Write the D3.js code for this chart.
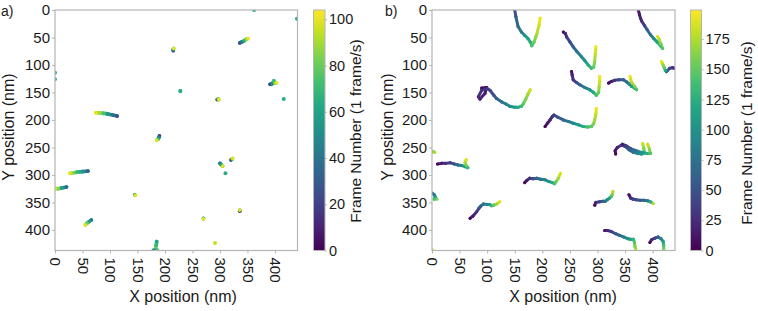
<!DOCTYPE html>
<html>
<head>
<meta charset="utf-8">
<script src="https://cdn.jsdelivr.net/npm/d3@7"></script>
<style>
  body { margin: 0; background: #fff; }
  text { font-family: "Liberation Sans", Arial, Helvetica, sans-serif; fill: #1a1a1a; }
</style>
</head>
<body>
<div id="chart"></div>
<script>
// Particle trajectories, each point = [x nm, y nm, frame]
const tracksA = [
    [[336, 60, 25], [340, 58, 45], [344, 56, 65], [348, 53, 85], [351, 52, 100]],
    [[215, 74, 20], [215, 72, 60], [216, 70, 100]],
    [[228, 147, 60], [228, 148, 65]],
    [[295, 163, 30], [297, 162, 80], [298, 163, 100]],
    [[391, 135, 25], [395, 134, 50], [398, 129, 70], [400, 133, 85], [403, 133, 100]],
    [[416, 162, 65]],
    [[362, 0, 65]],
    [[440, 16, 65]],
    [[0, 114, 65]],
    [[0, 126, 70]],
    [[113, 193, 25], [105, 191, 40], [96, 189, 55], [88, 188, 75], [80, 187, 90], [74, 187, 100]],
    [[190, 229, 25], [189, 232, 45], [187, 235, 70], [185, 237, 100]],
    [[60, 293, 30], [50, 294, 55], [40, 295, 70], [30, 297, 90], [27, 297, 100]],
    [[21, 322, 35], [12, 324, 60], [5, 325, 85], [0, 325, 100]],
    [[145, 336, 60], [146, 337, 100]],
    [[66, 382, 40], [62, 385, 60], [58, 388, 80], [55, 391, 100]],
    [[300, 279, 40], [302, 281, 60], [305, 284, 100]],
    [[320, 273, 25], [322, 271, 70], [323, 270, 100]],
    [[310, 297, 65]],
    [[270, 379, 60], [270, 380, 100]],
    [[336, 366, 25], [336, 364, 100]],
    [[291, 424, 95]],
    [[185, 421, 60], [184, 428, 70], [183, 434, 80], [181, 437, 90]],
    [[179, 437, 45], [186, 437, 75]]
];

const tracksB = [
    [[150, 0, 45], [152, 12, 55], [156, 30, 70], [162, 40, 85], [168, 46, 100], [174, 52, 115], [178, 58, 125], [181, 65, 140], [185, 58, 155], [188, 50, 165], [191, 40, 175], [194, 28, 185], [196, 15, 195]],
    [[238, 40, 10], [242, 43, 20], [244, 49, 30], [250, 58, 45], [256, 67, 60], [263, 76, 75], [271, 85, 90], [277, 92, 105], [283, 100, 120], [289, 106, 135], [293, 104, 150], [295, 94, 165], [296, 80, 180], [297, 67, 195]],
    [[253, 112, 10], [254, 118, 20], [256, 127, 30], [262, 132, 45], [268, 136, 60], [277, 141, 80], [286, 145, 100], [293, 150, 120], [298, 155, 140], [302, 150, 155], [303, 140, 170], [304, 130, 185], [304, 121, 195]],
    [[90, 142, 5], [99, 141, 10], [96, 152, 15], [87, 162, 20], [84, 158, 25], [90, 146, 30], [100, 143, 35], [105, 146, 40], [112, 155, 50], [117, 161, 60], [126, 167, 75], [134, 171, 85], [141, 175, 95], [150, 177, 110], [156, 177, 120], [162, 175, 135], [166, 170, 150], [170, 162, 160], [174, 153, 170], [178, 145, 185]],
    [[205, 212, 5], [210, 205, 15], [214, 200, 20], [218, 194, 30], [221, 191, 35], [228, 195, 50], [238, 200, 65], [248, 203, 80], [256, 206, 95], [266, 209, 110], [274, 212, 125], [282, 213, 140], [289, 212, 150], [293, 207, 160], [295, 200, 170], [297, 190, 180], [298, 179, 195]],
    [[374, 0, 10], [376, 8, 15], [378, 15, 20], [380, 20, 25], [385, 28, 40], [390, 36, 55], [396, 45, 75], [402, 52, 95], [408, 58, 115], [414, 65, 135], [418, 70, 145], [415, 62, 160], [412, 54, 175], [409, 48, 190]],
    [[440, 106, 10], [436, 105, 25], [431, 106, 40], [427, 110, 60], [425, 112, 80], [423, 110, 120], [421, 105, 150], [419, 100, 165], [417, 96, 180], [416, 94, 190]],
    [[320, 133, 5], [325, 130, 15], [331, 128, 30], [339, 127, 45], [347, 127, 60], [353, 131, 75], [358, 135, 90], [362, 139, 110], [367, 142, 125], [371, 145, 145], [368, 140, 160], [362, 132, 175], [360, 126, 185], [359, 121, 195]],
    [[333, 262, 5], [332, 256, 10], [336, 250, 20], [343, 246, 30], [350, 248, 45], [357, 254, 60], [365, 259, 80], [373, 261, 95], [380, 262, 110], [385, 260, 130], [384, 252, 160], [382, 243, 185]],
    [[345, 244, 15], [352, 247, 35], [360, 252, 55], [370, 256, 75], [380, 259, 100], [390, 261, 125], [396, 261, 145], [394, 253, 165], [391, 244, 185]],
    [[0, 258, 150], [3, 258, 165], [5, 259, 175]],
    [[10, 280, 5], [17, 279, 15], [25, 279, 25], [33, 278, 35], [40, 280, 50], [47, 282, 70], [54, 283, 90], [60, 285, 110], [65, 287, 135], [62, 283, 155], [60, 278, 170], [62, 272, 190]],
    [[0, 333, 45], [4, 336, 80], [6, 340, 110], [4, 344, 140], [9, 344, 160]],
    [[69, 379, 5], [74, 375, 15], [81, 367, 30], [85, 361, 45], [88, 357, 60], [93, 353, 75], [100, 354, 90], [105, 354, 110], [108, 356, 130], [112, 355, 150], [117, 353, 170], [123, 349, 190]],
    [[168, 314, 5], [172, 310, 15], [177, 306, 30], [183, 307, 45], [190, 306, 60], [197, 308, 75], [205, 309, 90], [212, 312, 105], [218, 314, 120], [222, 316, 140], [225, 312, 155], [229, 306, 170], [233, 297, 190]],
    [[295, 355, 5], [297, 350, 20], [304, 349, 40], [310, 348, 60], [314, 348, 75], [318, 345, 95], [322, 342, 115], [325, 339, 140], [327, 335, 160], [328, 330, 180]],
    [[357, 336, 10], [360, 342, 25], [364, 344, 35], [370, 345, 45], [377, 346, 55], [384, 346, 65], [391, 347, 80], [396, 349, 120], [401, 352, 175]],
    [[313, 401, 10], [318, 401, 20], [325, 403, 35], [333, 407, 50], [340, 410, 65], [348, 413, 85], [355, 416, 100], [360, 417, 115], [365, 417, 130], [367, 423, 145], [368, 430, 160], [370, 437, 175]],
    [[395, 423, 5], [398, 418, 20], [404, 415, 40], [410, 413, 60], [415, 416, 85], [419, 421, 110], [420, 428, 140], [420, 436, 160]],
    [[0, 437, 180]]
];

const xTicks = [0, 50, 100, 150, 200, 250, 300, 350, 400];
const yTicks = [0, 50, 100, 150, 200, 250, 300, 350, 400];
const cbTicksA = [0, 20, 40, 60, 80, 100];
const cbTicksB = [0, 25, 50, 75, 100, 125, 150, 175];

const width = 758;
const height = 311;
const gray = "#b4b4b4";

const svg = d3.select("#chart").append("svg")
    .attr("width", width)
    .attr("height", height);

const defs = svg.append("defs");

function drawPanel(p) {
    const x = d3.scaleLinear().domain([0, p.xMax]).range([p.left, p.right]);
    const y = d3.scaleLinear().domain([0, p.yMax]).range([p.top, p.bottom]);
    const color = d3.scaleSequential(d3.interpolateViridis).domain([0, p.cbMax]);

    // clip region for the trajectories
    defs.append("clipPath").attr("id", "clip-" + p.id)
        .append("rect")
        .attr("x", p.left).attr("y", p.top)
        .attr("width", p.right - p.left).attr("height", p.bottom - p.top);

    const marks = svg.append("g").attr("clip-path", `url(#clip-${p.id})`);

    p.tracks.forEach(track => {
        const segs = d3.pairs(track);
        marks.append("g")
            .selectAll("line")
            .data(segs)
            .enter()
            .append("line")
            .attr("x1", d => x(d[0][0]))
            .attr("y1", d => y(d[0][1]))
            .attr("x2", d => x(d[1][0]))
            .attr("y2", d => y(d[1][1]))
            .attr("stroke", d => color((d[0][2] + d[1][2]) / 2))
            .attr("stroke-width", p.lineW)
            .attr("stroke-linecap", "round");
        marks.append("g")
            .selectAll("circle")
            .data(track)
            .enter()
            .append("circle")
            .attr("cx", d => x(d[0]))
            .attr("cy", d => y(d[1]))
            .attr("r", track.length === 1 ? p.dotR : p.lineW / 2)
            .attr("fill", d => color(d[2]));
    });

    // frame
    svg.append("rect")
        .attr("x", p.left).attr("y", p.top)
        .attr("width", p.right - p.left).attr("height", p.bottom - p.top)
        .attr("fill", "none").attr("stroke", gray).attr("stroke-width", 1.2);

    const xAxis = svg.append("g")
        .attr("transform", `translate(0,${p.bottom})`)
        .call(d3.axisBottom(x).tickValues(xTicks).tickSize(3).tickSizeOuter(0));
    xAxis.select(".domain").remove();
    xAxis.selectAll(".tick line").attr("stroke", gray);
    xAxis.selectAll(".tick text")
        .attr("y", 0).attr("x", 7).attr("dy", "0.36em")
        .attr("transform", "rotate(90)")
        .style("text-anchor", "start")
        .style("font-size", "15px")
        .attr("fill", "#1a1a1a");

    const yAxis = svg.append("g")
        .attr("transform", `translate(${p.left},0)`)
        .call(d3.axisLeft(y).tickValues(yTicks).tickSize(3).tickPadding(2).tickSizeOuter(0));
    yAxis.select(".domain").remove();
    yAxis.selectAll(".tick line").attr("stroke", gray);
    yAxis.selectAll(".tick text").style("font-size", "15px").attr("fill", "#1a1a1a");

    // colorbar
    const gradId = "grad-" + p.id;
    const grad = defs.append("linearGradient").attr("id", gradId)
        .attr("x1", "0").attr("y1", "1").attr("x2", "0").attr("y2", "0");
    d3.range(0, 1.0001, 0.1).forEach(t => {
        grad.append("stop").attr("offset", t).attr("stop-color", d3.interpolateViridis(t));
    });
    svg.append("rect")
        .attr("x", p.cbLeft).attr("y", p.top)
        .attr("width", p.cbW).attr("height", p.bottom - p.top)
        .attr("fill", `url(#${gradId})`)
        .attr("stroke", gray).attr("stroke-width", 1);

    const cbScale = d3.scaleLinear().domain([0, p.cbMax]).range([p.bottom, p.top]);
    const cbAxis = svg.append("g")
        .attr("transform", `translate(${p.cbLeft + p.cbW},0)`)
        .call(d3.axisRight(cbScale).tickValues(p.cbTicks).tickSize(2).tickPadding(2).tickSizeOuter(0));
    cbAxis.select(".domain").remove();
    cbAxis.selectAll(".tick line").attr("stroke", gray);
    cbAxis.selectAll(".tick text").style("font-size", "14.5px").attr("fill", "#1a1a1a");

    svg.append("text")
        .attr("transform", `translate(${p.cbLabelX},${p.cbLabelY}) rotate(-90)`)
        .attr("text-anchor", "middle")
        .style("font-size", "15.5px")
        .text("Frame Number (1 frame/s)");

    svg.append("text")
        .attr("transform", `translate(${p.yLabelX},127) rotate(-90)`)
        .attr("text-anchor", "middle")
        .style("font-size", "16px")
        .text("Y position (nm)");

    svg.append("text")
        .attr("x", p.xLabelX).attr("y", 302)
        .attr("text-anchor", "middle")
        .style("font-size", "16px")
        .text("X position (nm)");

    svg.append("text")
        .attr("x", p.tagX).attr("y", 16)
        .style("font-size", "14px")
        .text(p.tag);
}

drawPanel({
    id: "a", tag: "a)", tagX: 1, tracks: tracksA,
    left: 55, right: 297.5, top: 10, bottom: 250.5, xMax: 441, yMax: 437.5,
    cbLeft: 313.5, cbW: 11.5, cbMax: 104, cbTicks: cbTicksA,
    cbLabelX: 360.5, cbLabelY: 131, yLabelX: 13.5, xLabelX: 183,
    lineW: 3.6, dotR: 2
});

drawPanel({
    id: "b", tag: "b)", tagX: 385, tracks: tracksB,
    left: 432, right: 675, top: 10, bottom: 250.5, xMax: 440.5, yMax: 437.5,
    cbLeft: 690.5, cbW: 11, cbMax: 199, cbTicks: cbTicksB,
    cbLabelX: 752, cbLabelY: 133, yLabelX: 393, xLabelX: 563,
    lineW: 3, dotR: 2
});
</script>
</body>
</html>
